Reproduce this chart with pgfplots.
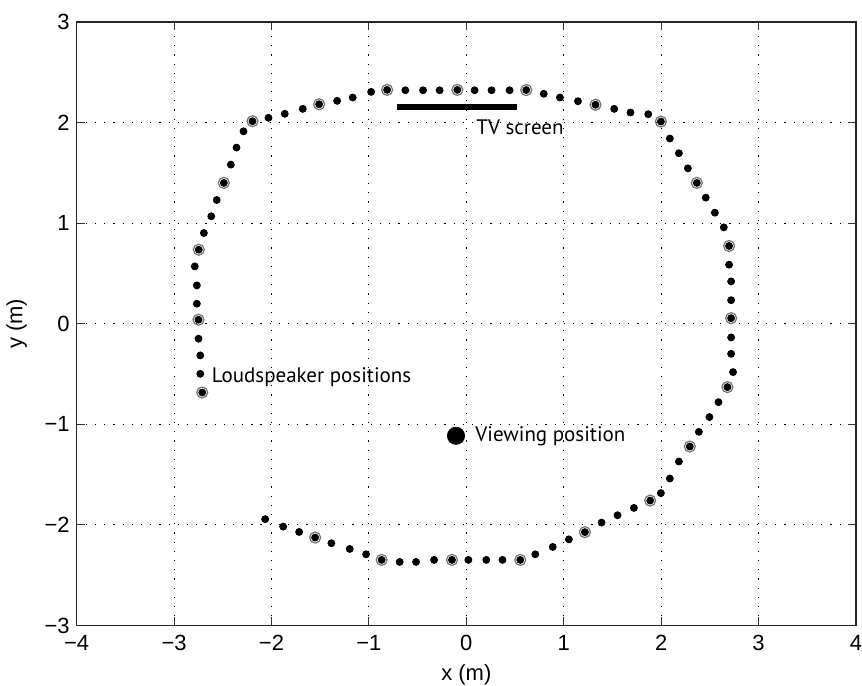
\documentclass[border=0pt]{standalone}
\usepackage{fontspec}
\setmainfont{Liberation Sans}
\newfontfamily\annfont{PT Sans}
\usepackage{pgfplots}
\pgfplotsset{compat=1.18}
\usetikzlibrary{calc}
\begin{document}
\begin{tikzpicture}
\begin{axis}[
  scale only axis, width=390pt, height=302pt,
  xmin=-4, xmax=4, ymin=-3, ymax=3,
  xtick={-4,-3,-2,-1,0,1,2,3,4},
  xticklabels={−4,−3,−2,−1,0,1,2,3,4},
  ytick={-3,-2,-1,0,1,2,3},
  yticklabels={−3,−2,−1,0,1,2,3},
  tick label style={font=\fontsize{11}{13}\selectfont},
  xticklabel style={yshift=-1.5pt},
  tick align=inside, major tick length=4pt,
  tick style={black!80, line width=0.5pt},
  axis line style={black!85, line width=0.6pt},
  grid=major,
  major grid style={black, line width=0.45pt, dash pattern=on 0.6pt off 4pt},
  clip=false,
]
\coordinate (SW) at (rel axis cs:0,0);
\coordinate (NE) at (rel axis cs:1,1);
% TV screen
\addplot[black, line width=3.3pt, forget plot] coordinates {(-0.715,2.156) (0.520,2.156)};
% rings around selected loudspeakers
\addplot[only marks, mark=o, mark size=2.75pt, mark options={draw=black!55, line width=0.6pt, fill=white}] coordinates {
(-2.711,-0.684) (-2.749,0.040) (-2.746,0.736) (-2.489,1.400) (-2.195,2.013)
(-1.511,2.182) (-0.813,2.325) (-0.092,2.325) (0.615,2.323) (1.326,2.177)
(1.997,2.010) (2.366,1.400) (2.697,0.773) (2.718,0.055) (2.680,-0.630)
(2.294,-1.221) (1.887,-1.758) (1.217,-2.072) (0.554,-2.348) (-0.147,-2.348)
(-0.869,-2.348) (-1.552,-2.126)
};
% all loudspeaker positions
\addplot[only marks, mark=*, mark size=1.75pt, mark options={black}] coordinates {
(-2.711,-0.684) (-2.731,-0.498) (-2.731,-0.315) (-2.749,-0.149)
(-2.749,0.040) (-2.766,0.199) (-2.766,0.381) (-2.787,0.570)
(-2.746,0.736) (-2.694,0.902) (-2.618,1.068) (-2.562,1.230)
(-2.489,1.400) (-2.417,1.582) (-2.359,1.751) (-2.287,1.913)
(-2.195,2.013) (-2.031,2.047) (-1.864,2.087) (-1.679,2.136)
(-1.511,2.182) (-1.326,2.216) (-1.166,2.249) (-0.977,2.305)
(-0.813,2.325) (-0.626,2.321) (-0.444,2.321) (-0.274,2.321)
(-0.092,2.325) (0.085,2.321) (0.259,2.321) (0.444,2.321)
(0.615,2.323) (0.795,2.286) (0.961,2.249) (1.146,2.212)
(1.326,2.177) (1.518,2.136) (1.685,2.100) (1.867,2.083)
(1.997,2.010) (2.089,1.841) (2.182,1.695) (2.274,1.545)
(2.366,1.400) (2.458,1.254) (2.551,1.104) (2.643,0.958)
(2.697,0.773) (2.697,0.587) (2.718,0.421) (2.718,0.234)
(2.718,0.055) (2.718,-0.136) (2.718,-0.299) (2.738,-0.481)
(2.680,-0.630) (2.588,-0.780) (2.495,-0.928) (2.387,-1.075)
(2.294,-1.221) (2.182,-1.370) (2.089,-1.539) (1.997,-1.684)
(1.887,-1.758) (1.720,-1.831) (1.552,-1.904) (1.388,-1.977)
(1.217,-2.072) (1.053,-2.144) (0.887,-2.219) (0.708,-2.292)
(0.554,-2.348) (0.371,-2.348) (0.205,-2.348) (0.021,-2.348)
(-0.147,-2.348) (-0.331,-2.348) (-0.516,-2.368) (-0.684,-2.368)
(-0.869,-2.348) (-1.029,-2.292) (-1.197,-2.239) (-1.385,-2.182)
(-1.552,-2.126) (-1.716,-2.070) (-1.880,-2.017) (-2.065,-1.943)
};
% viewing position
\addplot[only marks, mark=*, mark size=4.3pt, mark options={black}] coordinates {(-0.106,-1.114)};
\node[anchor=west, inner sep=0pt, font=\annfont\fontsize{10.5}{12}\selectfont] at (axis cs:0.10,1.95) {TV screen};
\node[anchor=west, inner sep=0pt, font=\annfont\fontsize{10.5}{12}\selectfont] at (axis cs:-2.615,-0.536) {Loudspeaker positions};
\node[anchor=west, inner sep=0pt, font=\annfont\fontsize{10.5}{12}\selectfont] at (axis cs:0.09,-1.12) {Viewing position};
\end{axis}
\node[font=\fontsize{11}{13}\selectfont] at ($(SW)!0.5!(SW-|NE)+(0,-24.5pt)$) {x (m)};
\node[font=\fontsize{11}{13}\selectfont, rotate=90] at ($(SW)!0.5!(SW|-NE)+(-30pt,0)$) {y (m)};
\pgfresetboundingbox
\path[use as bounding box] ($(SW)+(-38.35pt,-30pt)$) rectangle ($(NE)+(3pt,11pt)$);
\end{tikzpicture}
\end{document}
